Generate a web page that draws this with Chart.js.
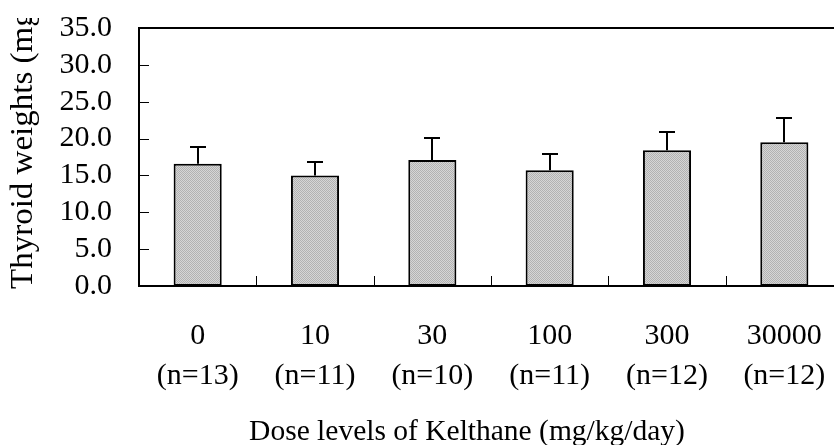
<!DOCTYPE html>
<html><head><meta charset="utf-8">
<script src="https://cdn.jsdelivr.net/npm/chart.js@4"></script>
<style>
html,body{margin:0;padding:0;overflow:hidden;background:#fff;width:834px;height:445px}
#wrap{position:absolute;left:0;top:0;width:860px;height:445px}
</style>
</head><body><div id="wrap"><canvas id="c" width="860" height="445"></canvas></div>
<script>
const doseLabels = ['0', '10', '30', '100', '300', '30000'];
const groupSizes = ['(n=13)', '(n=11)', '(n=10)', '(n=11)', '(n=12)', '(n=12)'];
const meanWeights = [16.6, 15.0, 17.1, 15.7, 18.4, 19.5];
const sdWeights = [2.2, 1.8, 3.0, 2.2, 2.5, 3.3];
const yTicks = [0, 5, 10, 15, 20, 25, 30, 35];
const yTitle = 'Thyroid weights (mg)';
const xTitle = 'Dose levels of Kelthane (mg/kg/day)';

const FONT = '"Liberation Serif", "Times New Roman", serif';

function makePattern() {
  const p = document.createElement('canvas');
  p.width = 2; p.height = 2;
  const g = p.getContext('2d');
  g.fillStyle = '#d6d6d6'; g.fillRect(0, 0, 2, 2);
  g.fillStyle = '#b2b2b2'; g.fillRect(0, 0, 1, 1); g.fillRect(1, 1, 1, 1);
  return document.getElementById('c').getContext('2d').createPattern(p, 'repeat');
}

const decor = {
  id: 'decor',
  afterDatasetsDraw(chart) {
    const ctx = chart.ctx;
    const a = chart.chartArea;
    const xs = chart.scales.x, ys = chart.scales.y;
    ctx.save();
    // error bars
    ctx.strokeStyle = '#000';
    ctx.lineWidth = 2;
    meanWeights.forEach((m, i) => {
      const x = Math.round(xs.getPixelForValue(i));
      const y0 = ys.getPixelForValue(m);
      const y1 = Math.round(ys.getPixelForValue(m + sdWeights[i]));
      ctx.beginPath();
      ctx.moveTo(x, y0); ctx.lineTo(x, y1);
      ctx.moveTo(x - 8, y1); ctx.lineTo(x + 8, y1);
      ctx.stroke();
    });
    // plot border
    ctx.lineWidth = 2;
    ctx.strokeRect(a.left, a.top, a.right - a.left, a.bottom - a.top);
    // inward ticks
    ctx.lineWidth = 1;
    ctx.beginPath();
    for (let i = 0; i < doseLabels.length - 1; i++) {
      const x = Math.round((xs.getPixelForValue(i) + xs.getPixelForValue(i + 1)) / 2) + 0.5;
      ctx.moveTo(x, a.bottom); ctx.lineTo(x, a.bottom - 10);
    }
    yTicks.forEach(v => {
      const y = Math.round(ys.getPixelForValue(v)) + 0.5;
      ctx.moveTo(a.left, y); ctx.lineTo(a.left + 10, y);
    });
    ctx.stroke();
    // x title
    ctx.fillStyle = '#000';
    ctx.font = '29.5px ' + FONT;
    ctx.textAlign = 'center';
    ctx.textBaseline = 'alphabetic';
    ctx.fillText(xTitle, 467, 440);
    // y title (clipped at top as in the original)
    ctx.beginPath();
    ctx.rect(0, 18, 70, 427);
    ctx.clip();
    ctx.translate(32, 289);
    ctx.rotate(-Math.PI / 2);
    ctx.scale(1, 0.95);
    ctx.font = '33px ' + FONT;
    ctx.textAlign = 'left';
    ctx.fillText(yTitle, 0, 0);
    ctx.restore();
  }
};

new Chart(document.getElementById('c'), {
  type: 'bar',
  data: {
    labels: doseLabels.map((d, i) => [d, groupSizes[i]]),
    datasets: [{
      data: meanWeights,
      backgroundColor: makePattern(),
      borderColor: '#000',
      borderWidth: 2,
      borderSkipped: false,
      barPercentage: 0.41,
      categoryPercentage: 1.0
    }]
  },
  options: {
    responsive: false,
    animation: false,
    devicePixelRatio: 1,
    layout: { padding: { left: 0, top: 28, right: 17, bottom: 0 } },
    plugins: { legend: { display: false }, tooltip: { enabled: false } },
    scales: {
      x: {
        grid: { display: false, drawTicks: false },
        border: { display: false },
        ticks: {
          color: '#000',
          font: { family: FONT, size: 30, lineHeight: 1.34 },
          padding: 30,
          maxRotation: 0,
          autoSkip: false
        },
        afterFit(s) { s.height = 159; }
      },
      y: {
        min: 0, max: 35,
        grid: { display: false, drawTicks: false },
        border: { display: false },
        ticks: {
          stepSize: 5,
          autoSkip: false,
          color: '#000',
          font: { family: FONT, size: 30 },
          padding: 27,
          callback: v => Number(v).toFixed(1)
        },
        afterFit(s) { s.width = 139; s.paddingTop = 0; s.paddingBottom = 0; }
      }
    }
  },
  plugins: [decor]
});
</script>
</body></html>
